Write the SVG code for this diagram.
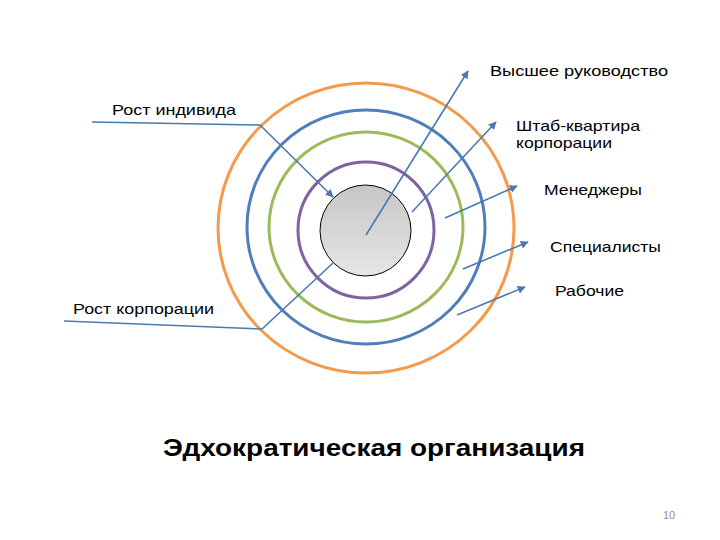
<svg xmlns="http://www.w3.org/2000/svg" width="720" height="540" viewBox="0 0 720 540">
<style>
.lbl{font-family:"Liberation Sans",Arial,sans-serif;font-size:15px;fill:#000}
.title{font-family:"Liberation Sans",Arial,sans-serif;font-size:23px;font-weight:bold;fill:#000}
.num{font-family:"Liberation Sans",Arial,sans-serif;font-size:11px;fill:#8c8c8c}
.ring{fill:none;stroke-width:3}
.con{fill:none;stroke:#4a79b0;stroke-width:1.6}
</style>
<defs>
<marker id="ah" viewBox="0 0 10 10" refX="9" refY="5" markerWidth="5" markerHeight="5" orient="auto">
<path d="M0,0 L10,5 L0,10 z" fill="#4a79b0"/>
</marker>
<linearGradient id="g" x1="0" y1="0" x2="0" y2="1">
<stop offset="0" stop-color="#c6c6c6"/>
<stop offset="1" stop-color="#e6e6e6"/>
</linearGradient>
</defs>
<rect width="720" height="540" fill="#fff"/>
<g id="ring-orange"><ellipse class="ring" cx="366" cy="228" rx="148" ry="145" stroke="#f59a4c"/></g>
<g id="ring-blue"><ellipse class="ring" cx="366" cy="227" rx="119" ry="117" stroke="#4f7fb8"/></g>
<g id="ring-green"><ellipse class="ring" cx="366" cy="227" rx="97" ry="95" stroke="#9bbb59"/></g>
<g id="ring-purple"><ellipse class="ring" cx="366" cy="230" rx="68" ry="68" stroke="#7f62a0"/></g>
<g id="core"><circle cx="365.5" cy="230.5" r="45.5" fill="url(#g)" stroke="#000" stroke-width="1"/></g>
<g id="connectors">
<polyline class="con" points="92,122 260,125 333,197" marker-end="url(#ah)"/>
<polyline class="con" points="64,321 262,329 333,263"/>
<line class="con" x1="366" y1="235" x2="468" y2="71" marker-end="url(#ah)"/>
<line class="con" x1="412" y1="212" x2="496" y2="122" marker-end="url(#ah)"/>
<line class="con" x1="445" y1="218" x2="517" y2="186" marker-end="url(#ah)"/>
<line class="con" x1="463" y1="269" x2="528" y2="242" marker-end="url(#ah)"/>
<line class="con" x1="457" y1="315" x2="525" y2="287" marker-end="url(#ah)"/>
</g>
<g id="labels">
<text class="lbl" x="490" y="75.5" textLength="178" lengthAdjust="spacingAndGlyphs">Высшее руководство</text>
<text class="lbl" x="516" y="131" textLength="124" lengthAdjust="spacingAndGlyphs">Штаб-квартира</text>
<text class="lbl" x="516" y="148" textLength="96" lengthAdjust="spacingAndGlyphs">корпорации</text>
<text class="lbl" x="544" y="195" textLength="98" lengthAdjust="spacingAndGlyphs">Менеджеры</text>
<text class="lbl" x="550" y="252" textLength="111" lengthAdjust="spacingAndGlyphs">Специалисты</text>
<text class="lbl" x="555" y="296" textLength="69" lengthAdjust="spacingAndGlyphs">Рабочие</text>
<text class="lbl" x="112" y="115" textLength="124" lengthAdjust="spacingAndGlyphs">Рост индивида</text>
<text class="lbl" x="73" y="314" textLength="141" lengthAdjust="spacingAndGlyphs">Рост корпорации</text>
<text class="title" x="163" y="456" textLength="422" lengthAdjust="spacingAndGlyphs">Эдхократическая организация</text>
<text class="num" x="663" y="519">10</text>
</g>
</svg>
